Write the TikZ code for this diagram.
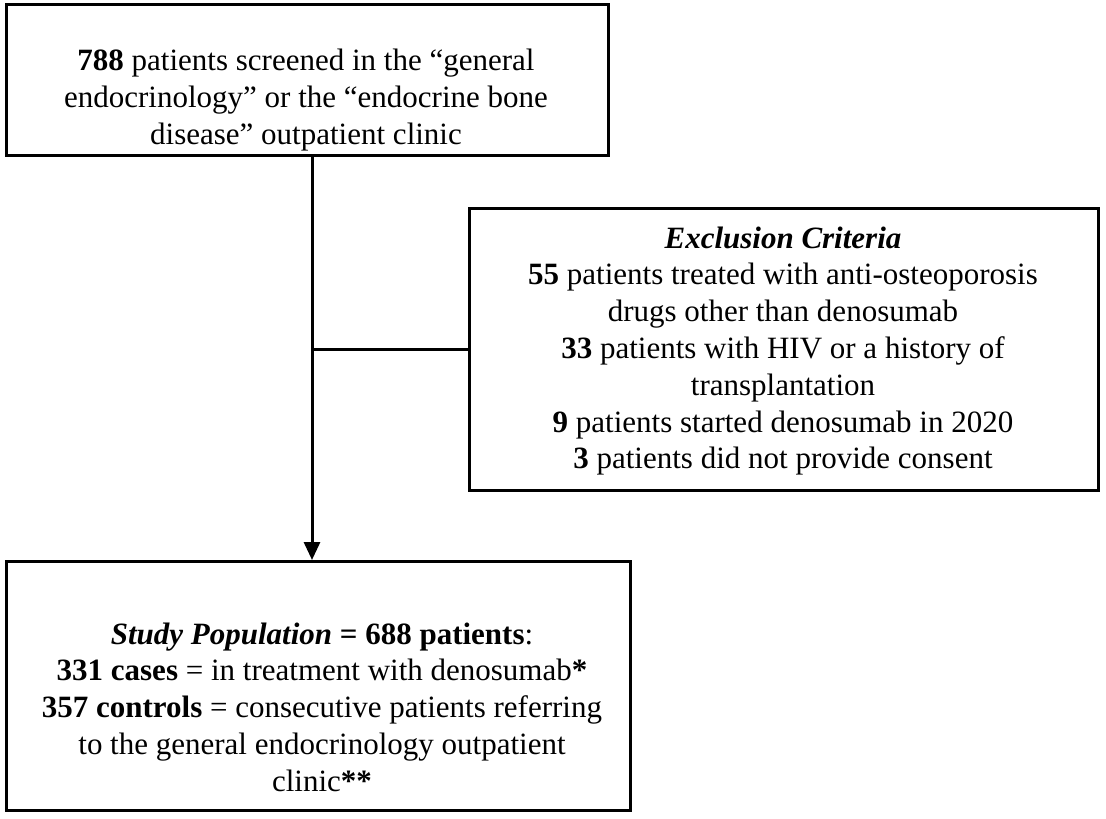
\documentclass[tikz,border=0pt]{standalone}
\usepackage{fontspec}
\setmainfont{Liberation Serif}
\usetikzlibrary{arrows.meta}
\begin{document}
\begin{tikzpicture}[x=1pt,y=-1pt,
  box/.style={draw,line width=3pt,inner sep=0pt,fill=white},
  txt/.style={align=center,inner sep=0pt,font=\fontsize{31}{36.8}\selectfont},
  conn/.style={line width=3pt}]
\fill[white] (0,0) rectangle (1106,819);
\useasboundingbox (0,0) rectangle (1106,819);
\node[box,minimum width=602pt,minimum height=151pt] (top) at (307.5,80) {};
\node[box,minimum width=629pt,minimum height=282pt] (excl) at (784,349.5) {};
\node[box,minimum width=624pt,minimum height=249pt] (pop) at (318.5,686) {};
\node[txt] (toptxt) at (306,100) {\textbf{788} patients screened in the “general\\endocrinology” or the “endocrine bone\\disease” outpatient clinic};
\node[txt] (excltxt) at (783,351) {\textbf{\textit{Exclusion Criteria}}\\\textbf{55} patients treated with anti-osteoporosis\\drugs other than denosumab\\\textbf{33} patients with HIV or a history of\\transplantation\\\textbf{9} patients started denosumab in 2020\\\textbf{3} patients did not provide consent};
\node[txt] (poptxt) at (322,707) {\textbf{\textit{Study Population}} \textbf{= 688 patients}:\\\textbf{331 cases} = in treatment with denosumab\textbf{*}\\\textbf{357 controls} = consecutive patients referring\\to the general endocrinology outpatient\\clinic\textbf{**}};
\coordinate (j) at (312,349);
\draw[conn,-{Triangle[length=18pt,width=16pt]}] (top.south -| j) -- (pop.north -| j);
\draw[conn] (j) -- (j -| excl.west);
\end{tikzpicture}
\end{document}
